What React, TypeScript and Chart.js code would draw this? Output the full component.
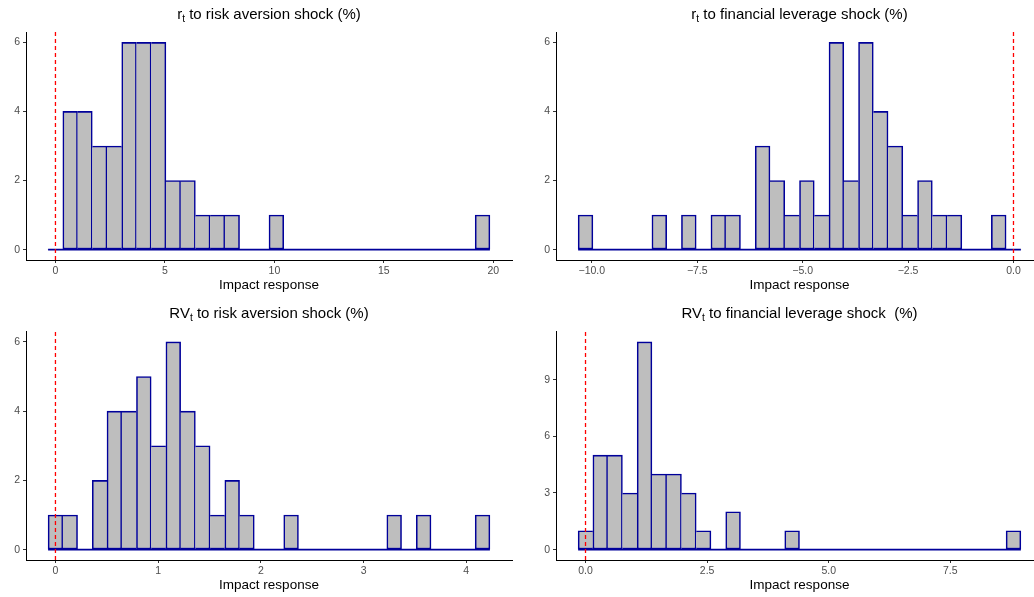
import React, { useEffect, useRef } from "react";
import { Chart, registerables } from "chart.js";

Chart.register(...registerables);

const FONT = "'Liberation Sans', Arial, Helvetica, sans-serif";

// ---------- Panel 1: r_t to risk aversion shock ----------
const p1FirstBinCentre = 0;
const p1BinWidth = 0.6727;
const p1Counts = [0, 4, 4, 3, 3, 6, 6, 6, 2, 2, 1, 1, 1, 0, 0, 1, 0, 0, 0, 0, 0, 0, 0, 0, 0, 0, 0, 0, 0, 1];
const p1XTicks = [0, 5, 10, 15, 20];
const p1XLabels = ["0", "5", "10", "15", "20"];
const p1YTicks = [0, 2, 4, 6];

// ---------- Panel 2: r_t to financial leverage shock ----------
const p2FirstBinCentre = -10.15;
const p2BinWidth = 0.35;
const p2Counts = [1, 0, 0, 0, 0, 1, 0, 1, 0, 1, 1, 0, 3, 2, 1, 2, 1, 6, 2, 6, 4, 3, 1, 2, 1, 1, 0, 0, 1, 0];
const p2XTicks = [-10, -7.5, -5, -2.5, 0];
const p2XLabels = ["\u221210.0", "\u22127.5", "\u22125.0", "\u22122.5", "0.0"];
const p2YTicks = [0, 2, 4, 6];

// ---------- Panel 3: RV_t to risk aversion shock ----------
const p3FirstBinCentre = 0;
const p3BinWidth = 0.1434;
const p3Counts = [1, 1, 0, 2, 4, 4, 5, 3, 6, 4, 3, 1, 2, 1, 0, 0, 1, 0, 0, 0, 0, 0, 0, 1, 0, 1, 0, 0, 0, 1];
const p3XTicks = [0, 1, 2, 3, 4];
const p3XLabels = ["0", "1", "2", "3", "4"];
const p3YTicks = [0, 2, 4, 6];

// ---------- Panel 4: RV_t to financial leverage shock ----------
const p4FirstBinCentre = 0;
const p4BinWidth = 0.3034;
const p4Counts = [1, 5, 5, 3, 11, 4, 4, 3, 1, 0, 2, 0, 0, 0, 1, 0, 0, 0, 0, 0, 0, 0, 0, 0, 0, 0, 0, 0, 0, 1];
const p4XTicks = [0, 2.5, 5, 7.5];
const p4XLabels = ["0.0", "2.5", "5.0", "7.5"];
const p4YTicks = [0, 3, 6, 9];

const titleMain = ["r", "r", "RV", "RV"];
const titleRest = [
  " to risk aversion shock (%)",
  " to financial leverage shock (%)",
  " to risk aversion shock (%)",
  " to financial leverage shock  (%)",
];
const xAxisTitle = "Impact response";
const vlineAt = 0;

type Panel = {
  first: number;
  width: number;
  counts: number[];
  xTicks: number[];
  xLabels: string[];
  yTicks: number[];
  left: number;
  top: number;
  cw: number;
  ch: number;
  yAxisW: number;
  padTop: number;
  padRight: number;
};

const panels: Panel[] = [
  { first: p1FirstBinCentre, width: p1BinWidth, counts: p1Counts, xTicks: p1XTicks, xLabels: p1XLabels, yTicks: p1YTicks, left: 0, top: 0, cw: 517, ch: 297, yAxisW: 26, padTop: 32, padRight: 5 },
  { first: p2FirstBinCentre, width: p2BinWidth, counts: p2Counts, xTicks: p2XTicks, xLabels: p2XLabels, yTicks: p2YTicks, left: 517, top: 0, cw: 530, ch: 297, yAxisW: 39, padTop: 32, padRight: 4 },
  { first: p3FirstBinCentre, width: p3BinWidth, counts: p3Counts, xTicks: p3XTicks, xLabels: p3XLabels, yTicks: p3YTicks, left: 0, top: 299, cw: 517, ch: 298, yAxisW: 26, padTop: 32.5, padRight: 5 },
  { first: p4FirstBinCentre, width: p4BinWidth, counts: p4Counts, xTicks: p4XTicks, xLabels: p4XLabels, yTicks: p4YTicks, left: 517, top: 299, cw: 530, ch: 298, yAxisW: 39, padTop: 32.5, padRight: 4 },
];

const BW = 1.6;
const BAR_FILL = "#BEBEBE";
const BAR_LINE = "#00009A";
const VLINE_COLOR = "rgb(255, 0, 0)";

function HistPanel({ p }: { p: Panel }) {
  const ref = useRef<HTMLCanvasElement | null>(null);
  useEffect(() => {
    if (!ref.current) return;
    const n = p.counts.length;
    const lo = p.first - p.width / 2;
    const hi = p.first + (n - 0.5) * p.width;
    const xpad = 0.05 * (hi - lo);
    const maxC = Math.max(...p.counts);
    const yMin = -0.05 * maxC;
    const yMax = maxC * 1.05;
    const counts = p.counts;
    const borderW = (ctx: any) => {
      const i = ctx.dataIndex;
      if (i === undefined || i === null) return BW;
      const c = counts[i];
      if (!c) return 0;
      const prev = i > 0 ? counts[i - 1] : 0;
      const next = i < counts.length - 1 ? counts[i + 1] : 0;
      return { top: BW, bottom: BW, left: c > prev ? BW : 0, right: c >= next ? BW : 0 };
    };
    const tickFont = { family: FONT, size: 10.5 };
    const chart = new Chart(ref.current, {
      type: "bar",
      data: {
        datasets: [
          {
            type: "line",
            label: "vline",
            data: [
              { x: vlineAt, y: yMin },
              { x: vlineAt, y: yMax },
            ],
            borderColor: VLINE_COLOR,
            backgroundColor: VLINE_COLOR,
            borderWidth: 1.3,
            borderDash: [4, 3],
            pointRadius: 0,
            fill: false,
            order: 0,
          } as any,
          {
            type: "line",
            label: "baseline",
            data: [
              { x: lo, y: 0 },
              { x: hi, y: 0 },
            ],
            borderColor: BAR_LINE,
            backgroundColor: BAR_LINE,
            borderWidth: BW,
            pointRadius: 0,
            fill: false,
            order: 1,
          } as any,
          {
            type: "bar",
            label: "count",
            data: counts.map((c, i) => ({ x: p.first + i * p.width, y: c })),
            backgroundColor: BAR_FILL,
            borderColor: BAR_LINE,
            borderWidth: borderW,
            borderSkipped: false,
            barPercentage: 1,
            categoryPercentage: 1,
            grouped: false,
            order: 2,
          } as any,
        ],
      },
      options: {
        animation: false,
        responsive: false,
        maintainAspectRatio: false,
        events: [],
        layout: { padding: { top: p.padTop, right: p.padRight, left: 0, bottom: 0 } },
        plugins: {
          legend: { display: false },
          tooltip: { enabled: false },
          title: { display: false },
          colors: { enabled: false },
        },
        scales: {
          x: {
            type: "linear",
            min: lo - xpad,
            max: hi + xpad,
            offset: false,
            afterBuildTicks: (s: any) => {
              s.ticks = p.xTicks.map((v) => ({ value: v }));
            },
            afterFit: (s: any) => {
              s.height = 37;
            },
            ticks: {
              autoSkip: false,
              maxRotation: 0,
              padding: 2,
              color: "#4D4D4D",
              font: tickFont,
              callback: (v: any) => {
                const k = p.xTicks.indexOf(Number(v));
                return k >= 0 ? p.xLabels[k] : "";
              },
            },
            grid: {
              display: true,
              drawOnChartArea: false,
              drawTicks: true,
              tickLength: 3,
              color: "#333333",
              offset: false,
            },
            border: { display: true, color: "#000000", width: 1 },
            title: {
              display: true,
              text: xAxisTitle,
              color: "#000000",
              font: { family: FONT, size: 13.5 },
              padding: { top: 0, bottom: 4 },
            },
          } as any,
          y: {
            type: "linear",
            min: yMin,
            max: yMax,
            afterBuildTicks: (s: any) => {
              s.ticks = p.yTicks.map((v) => ({ value: v }));
            },
            afterFit: (s: any) => {
              s.width = p.yAxisW;
            },
            ticks: {
              padding: 3,
              color: "#4D4D4D",
              font: tickFont,
              callback: (v: any) => String(v),
            },
            grid: {
              display: true,
              drawOnChartArea: false,
              drawTicks: true,
              tickLength: 3,
              color: "#333333",
            },
            border: { display: true, color: "#000000", width: 1 },
          } as any,
        },
      },
    });
    return () => chart.destroy();
  }, [p]);
  return (
    <canvas
      ref={ref}
      width={p.cw}
      height={p.ch}
      style={{ position: "absolute", left: p.left, top: p.top, width: p.cw, height: p.ch, display: "block" }}
    />
  );
}

export default function App() {
  const titleCentres = [
    { cx: 269, top: 4 },
    { cx: 799.5, top: 4 },
    { cx: 269, top: 303 },
    { cx: 799.5, top: 303 },
  ];
  return (
    <div
      style={{
        position: "absolute",
        left: 0,
        top: 0,
        width: 1034,
        height: 597,
        overflow: "hidden",
        background: "#ffffff",
      }}
    >
      {panels.map((p, i) => (
        <HistPanel key={i} p={p} />
      ))}
      {titleCentres.map((t, i) => (
        <div
          key={"t" + i}
          style={{
            position: "absolute",
            left: t.cx - 250,
            width: 500,
            top: t.top,
            height: 20,
            lineHeight: "20px",
            textAlign: "center",
            fontFamily: FONT,
            fontSize: 15,
            color: "#000000",
            whiteSpace: "pre",
          }}
        >
          {titleMain[i]}
          <sub style={{ fontSize: "0.68em", lineHeight: 0, verticalAlign: "-0.28em" }}>t</sub>
          {titleRest[i]}
        </div>
      ))}
    </div>
  );
}
